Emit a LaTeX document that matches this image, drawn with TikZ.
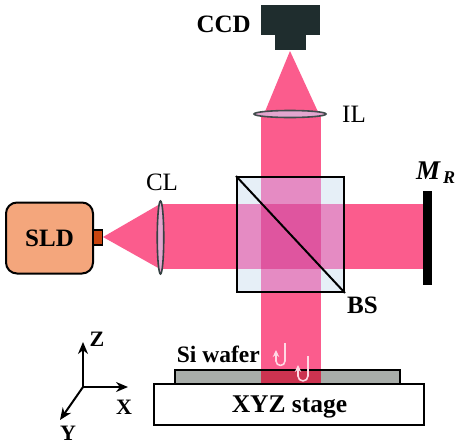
\documentclass[tikz,border=0pt]{standalone}
\usepackage{fontspec}
\setmainfont{Liberation Serif}
\usetikzlibrary{arrows.meta,shapes.geometric}
\definecolor{beam}{HTML}{FB5C8D}
\definecolor{cube}{HTML}{E6EFF7}
\definecolor{over}{HTML}{E58BC3}
\definecolor{dbl}{HTML}{DF559F}
\definecolor{ccdc}{HTML}{1F2D2E}
\definecolor{sldc}{HTML}{F4A67C}
\definecolor{portc}{HTML}{C9450F}
\definecolor{waferc}{HTML}{A8ADA9}
\definecolor{hot}{HTML}{CC3350}
\definecolor{lensc}{HTML}{E3A6CF}
\definecolor{rayc}{HTML}{FFD9E4}
\tikzset{
  lbl/.style={font=\bfseries\fontsize{25}{25}\selectfont,inner sep=0pt,text=black},
  plain/.style={font=\fontsize{25}{25}\selectfont,inner sep=0pt,text=black},
  axis/.style={line width=2pt,-{Stealth[length=12pt,width=10pt]},black},
  axlbl/.style={font=\bfseries\fontsize{22}{22}\selectfont,inner sep=0pt},
  ray/.style={rayc,line width=1.6pt,-{Stealth[length=7pt,width=6.5pt]},line join=round},
  outl/.style={draw=black,line width=2pt}
}
\begin{document}
\begin{tikzpicture}[x=1pt,y=-1pt]
\useasboundingbox (0,0) rectangle (459,448);
% beams
\fill[beam] (261,114) rectangle (321,384);
\fill[beam] (162,204) rectangle (423,269);
\fill[beam] (290,51) -- (319,114) -- (264,114) -- cycle;
\fill[beam] (103,237) -- (160,204) -- (160,269) -- cycle;
% cube
\fill[cube] (237,177) rectangle (344,292);
\fill[over] (237,204) rectangle (344,269);
\fill[over] (261,177) rectangle (321,292);
\fill[dbl] (261,204) rectangle (321,269);
\node[outl,minimum width=107pt,minimum height=115pt,inner sep=0pt] (bs) at (290.5,234.5) {};
\draw[line width=2pt] (bs.north west) -- (bs.south east);
% lenses
\node[draw=ccdc!85!white,fill=lensc,line width=1.6pt,ellipse,minimum width=72pt,minimum height=7pt,inner sep=0pt] (il) at (290,114) {};
\node[draw=ccdc!90!white,fill=lensc,line width=1.6pt,ellipse,minimum width=6.5pt,minimum height=73pt,inner sep=0pt] (cl) at (160.5,237.5) {};
% CCD
\fill[ccdc] (261,5) rectangle (320,35);
\fill[ccdc] (275,35) rectangle (306,50);
% mirror
\fill[black] (423,191) rectangle (432,285);
% SLD
\node[draw=black,line width=2pt,fill=sldc,rounded corners=11pt,minimum width=87pt,minimum height=71pt,inner sep=0pt,lbl] (sld) at (49.5,238) {SLD};
\node[draw=black,line width=1.4pt,fill=portc,minimum width=9pt,minimum height=15pt,inner sep=0pt] (port) at (98,237.5) {};
% stage and wafer
\fill[waferc] (175,370) rectangle (400,384);
\fill[hot] (261,370) rectangle (321,384);
\draw[line width=2pt] (175,384) -- (175,370) -- (400,370) -- (400,384);
\node[draw=black,line width=2pt,fill=white,minimum width=270pt,minimum height=41pt,inner sep=0pt] (stage) at (289,404.5) {};
\node[inner sep=0pt,font=\bfseries\fontsize{25.5}{25.5}\selectfont] (stagetxt) at (289.5,407) {XYZ stage};
% reflected rays
\draw[ray] (285,343) -- (285,361) arc[start angle=0,end angle=180,radius=4.5] -- (276,350);
\draw[ray] (308,356) -- (308,376) arc[start angle=0,end angle=180,radius=5] -- (298,365);
% labels
\node[lbl,anchor=east] (ccd) at (251,24) {CCD};
\node[plain,anchor=west] (iltxt) at (342,114) {IL};
\node[plain] (cltxt) at (162,182) {CL};
\node[lbl,anchor=west] (bstxt) at (347,305) {BS};
\node[lbl,font=\bfseries\fontsize{23.5}{23.5}\selectfont,anchor=east] (si) at (260,354) {Si wafer};
\node[inner sep=0pt,anchor=west,font=\bfseries\itshape\fontsize{27}{27}\selectfont] (mr) at (416,173) {M\raisebox{-4pt}{\fontsize{18}{18}\selectfont\,R}};
% axes
\coordinate (o) at (83,387);
\draw[axis] (o) -- (83,342);
\draw[axis] (o) -- (128,387);
\draw[axis] (o) -- (60,420);
\node[axlbl] (z) at (97,339) {Z};
\node[axlbl] (x) at (124,407) {X};
\node[axlbl] (y) at (68,433) {Y};
\end{tikzpicture}
\end{document}
